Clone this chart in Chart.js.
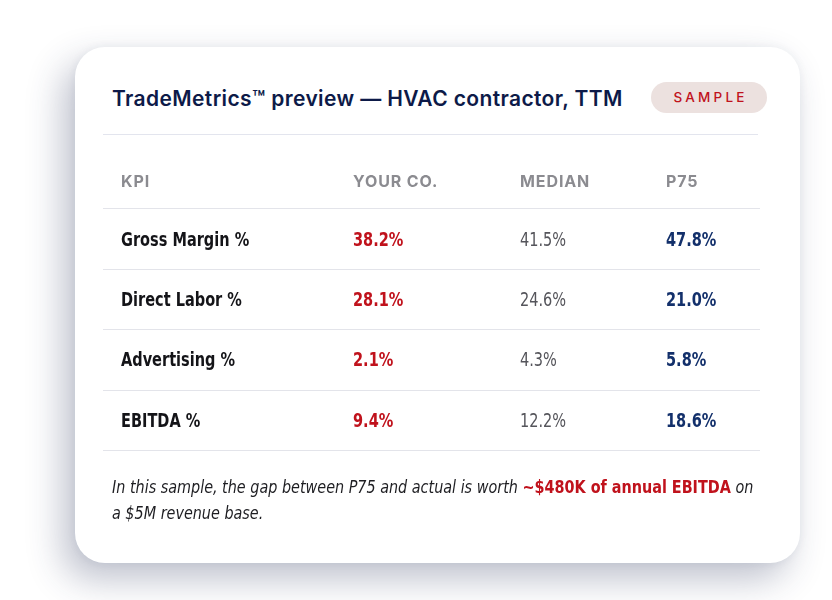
<!DOCTYPE html>
<html><head><meta charset="utf-8">
<script src="https://cdn.jsdelivr.net/npm/chart.js@4.4.1/dist/chart.umd.min.js"></script>
<style>
html,body{margin:0;padding:0;background:#fff;width:832px;height:600px;overflow:hidden;}
#card{position:absolute;left:75px;top:47px;width:725px;height:516px;border-radius:30px;background:#fff;
 box-shadow:-12px 16px 36px rgba(40,50,90,0.30), 0 0 10px rgba(40,50,90,0.06);}
#title{position:absolute;left:112px;top:86px;font-family:Inter,"Open Sans",sans-serif;font-weight:600;font-size:21px;color:#0d1a48;letter-spacing:0.38px;white-space:nowrap;}
#badge{position:absolute;left:651px;top:82px;width:116px;height:31px;border-radius:16px;background:#ece1df;color:#c0121c;
 font-family:Inter,"Open Sans",sans-serif;font-size:13.5px;letter-spacing:3.2px;text-align:center;line-height:31px;font-weight:500;text-indent:3px;}
#rule{position:absolute;left:103px;top:134px;width:655px;height:1px;background:#e3e5ee;}
#note{position:absolute;left:112px;top:474px;white-space:nowrap;font-family:"DejaVu Sans Condensed",sans-serif;font-style:italic;font-size:17px;line-height:26px;color:#1e1e22;transform:scaleX(0.94);transform-origin:0 0;}
#note b{color:#c0121c;font-style:normal;font-weight:700;}
#wrap{position:absolute;left:0;top:0;width:832px;height:600px;}
</style></head>
<body>
<div id="card"></div>
<div id="title">TradeMetrics™ preview — HVAC contractor, TTM</div>
<div id="badge">SAMPLE</div>
<div id="rule"></div>
<div id="wrap"><canvas id="c" width="832" height="600"></canvas></div>
<div id="note">In this sample, the gap between P75 and actual is worth <b>~$480K of annual EBITDA</b> on<br>a $5M revenue base.</div>
<script>
// ---- data ----
const columns = ['KPI', 'YOUR CO.', 'MEDIAN', 'P75'];
const kpis = ['Gross Margin %', 'Direct Labor %', 'Advertising %', 'EBITDA %'];
const yourCo = [38.2, 28.1, 2.1, 9.4];
const median = [41.5, 24.6, 4.3, 12.2];
const p75 = [47.8, 21.0, 5.8, 18.6];

// ---- layout / styles ----
const colLeft = [121, 353, 520, 666];
const rowLabels = ['__header__'].concat(kpis);
const bodyFont = '"DejaVu Sans Condensed",sans-serif';
const condense = 0.85;
const styles = [
  {font: '700 19px ' + bodyFont, color: '#141418'},
  {font: '700 19px ' + bodyFont, color: '#c0121c'},
  {font: '400 19px ' + bodyFont, color: '#55555b'},
  {font: '700 19px ' + bodyFont, color: '#13306b'}
];

function drawText(ctx, txt, x, y) {
  ctx.save();
  ctx.translate(x, y);
  ctx.scale(condense, 1);
  ctx.fillText(txt, 0, 0);
  ctx.restore();
}

const tablePlugin = {
  id: 'table',
  afterDatasetsDraw(chart) {
    const ctx = chart.ctx, y = chart.scales.y, area = chart.chartArea;
    const band = y.getPixelForValue(1) - y.getPixelForValue(0);
    ctx.save();
    // row rules
    ctx.strokeStyle = '#e3e4ea';
    ctx.lineWidth = 1.2;
    rowLabels.forEach((r, i) => {
      const yy = Math.round(y.getPixelForValue(i) + band / 2) + 0.5;
      ctx.beginPath(); ctx.moveTo(area.left, yy); ctx.lineTo(area.right, yy); ctx.stroke();
    });
    // header
    ctx.textBaseline = 'middle';
    ctx.fillStyle = '#8b8b90';
    ctx.font = '700 16px Inter,"Open Sans",sans-serif';
    if ('letterSpacing' in ctx) ctx.letterSpacing = '0.9px';
    columns.forEach((c, j) => ctx.fillText(c, colLeft[j], y.getPixelForValue(0) + 4));
    if ('letterSpacing' in ctx) ctx.letterSpacing = '0px';
    // KPI labels
    kpis.forEach((k, i) => {
      ctx.font = styles[0].font; ctx.fillStyle = styles[0].color;
      drawText(ctx, k, colLeft[0], y.getPixelForValue(i + 1) + 2);
    });
    // values
    chart.data.datasets.forEach((ds, d) => {
      const st = styles[d + 1];
      ctx.font = st.font; ctx.fillStyle = st.color;
      ds.data.forEach((pt) => {
        drawText(ctx, pt.v.toFixed(1) + '%', colLeft[d + 1], y.getPixelForValue(pt.y) + 2);
      });
    });
    ctx.restore();
  }
};

const mk = (arr, col) => arr.map((v, i) => ({x: col, y: kpis[i], v: v}));

new Chart(document.getElementById('c'), {
  type: 'scatter',
  data: {
    datasets: [
      {label: columns[1], data: mk(yourCo, 1), pointRadius: 0},
      {label: columns[2], data: mk(median, 2), pointRadius: 0},
      {label: columns[3], data: mk(p75, 3), pointRadius: 0}
    ]
  },
  options: {
    responsive: false,
    animation: false,
    parsing: {xAxisKey: 'x', yAxisKey: 'y'},
    layout: {padding: {top: 148, bottom: 150, left: 103, right: 72}},
    plugins: {legend: {display: false}, tooltip: {enabled: false}},
    scales: {
      x: {type: 'linear', min: 0, max: 4, display: false},
      y: {type: 'category', labels: rowLabels, offset: true, display: false}
    }
  },
  plugins: [tablePlugin]
});
</script>
</body></html>
